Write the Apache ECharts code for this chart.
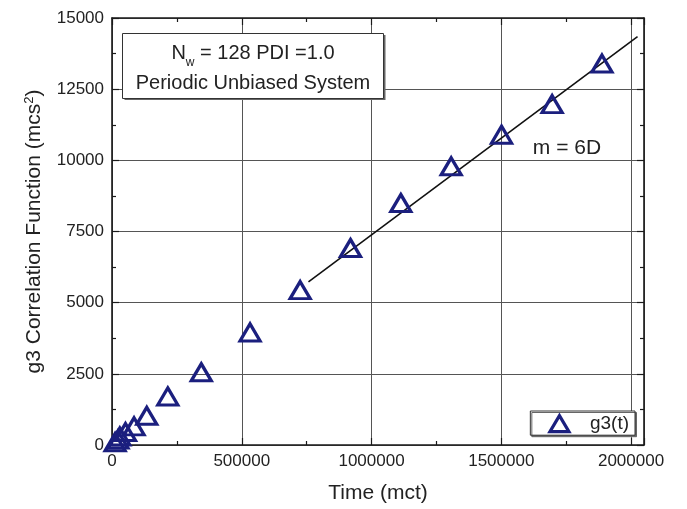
<!DOCTYPE html>
<html>
<head>
<meta charset="utf-8">
<script src="https://cdn.jsdelivr.net/npm/echarts@6/dist/echarts.min.js"></script>
<style>html,body{margin:0;padding:0;background:#fff;}#c{width:687px;height:509px;}</style>
</head>
<body>
<div id="c"></div>
<script>
var timeVals = [12000, 23000, 30000, 52000, 85000, 134000, 215000, 344000, 532000, 725000, 919000, 1113000, 1307000, 1501000, 1696000, 1888000];
var g3Vals = [100, 190, 300, 455, 655, 1025, 1705, 2555, 3955, 5440, 6920, 8500, 9790, 10900, 11975, 13400];
var fitX = [757000, 2025000];
var fitY = [5730, 14345];
var xTickStep = 500000;
var yTickStep = 2500;

var FONT = 'Liberation Sans, Arial, sans-serif';
var NAVY = '#1b1f7e';
var chart = echarts.init(document.getElementById('c'), null, {renderer: 'canvas'});

function axisCommon(showLabels, showSplit) {
  return {
    axisLine: {show: true, onZero: false, lineStyle: {color: '#1a1a1a', width: 1.6}},
    axisTick: {show: true, inside: true, length: 7, lineStyle: {color: '#1a1a1a', width: 1.2}},
    minorTick: {show: true, splitNumber: 2, length: 4, lineStyle: {color: '#1a1a1a', width: 1.2}},
    splitLine: {show: showSplit, lineStyle: {color: '#555', width: 1}},
    axisLabel: {show: showLabels, color: '#222', fontFamily: FONT, fontSize: 17, margin: 8, showMaxLabel: false,
      formatter: function (v) { return String(v); }}
  };
}

var xBottom = Object.assign(axisCommon(true, true), {
  type: 'value', position: 'bottom', min: 0, max: 2050000, interval: xTickStep,
  name: 'Time (mct)', nameLocation: 'middle', nameGap: 38,
  nameTextStyle: {fontFamily: FONT, fontSize: 21, color: '#222'}
});
var xTop = Object.assign(axisCommon(false, false), {
  type: 'value', position: 'top', min: 0, max: 2050000, interval: xTickStep
});
var yLeft = Object.assign(axisCommon(true, true), {
  type: 'value', position: 'left', min: 0, max: 15000, interval: yTickStep,
  name: 'g3 Correlation Function (mcs{sup|2})', nameLocation: 'middle', nameGap: 66,
  nameTextStyle: {fontFamily: FONT, fontSize: 21, color: '#222',
    rich: {sup: {fontFamily: FONT, fontSize: 13, color: '#222', verticalAlign: 'top', padding: [0, 0, 10, 0]}}}
});
yLeft.axisLabel.showMaxLabel = true;
var yRight = Object.assign(axisCommon(false, false), {
  type: 'value', position: 'right', min: 0, max: 15000, interval: yTickStep
});

var option = {
  animation: false,
  backgroundColor: '#fff',
  grid: {left: 112, right: 43, top: 18, bottom: 62, containLabel: false},
  xAxis: [xBottom, xTop],
  yAxis: [yLeft, yRight],
  legend: {
    data: [{name: 'g3(t)', icon: 'triangle'}],
    right: 52, top: 411,
    backgroundColor: '#fff', borderColor: '#333', borderWidth: 1,
    shadowColor: '#666', shadowOffsetX: 1.5, shadowOffsetY: 1.5, shadowBlur: 0,
    padding: [3, 6, 2, 18],
    itemWidth: 19, itemHeight: 16,
    itemStyle: {color: '#fff', borderColor: NAVY, borderWidth: 3.2},
    textStyle: {fontFamily: FONT, fontSize: 19, color: '#222', padding: [0, 0, 0, 16]}
  },
  graphic: [
    {type: 'rect', shape: {x: 124.5, y: 35, width: 261, height: 65}, style: {fill: '#666'}, z: 10},
    {type: 'rect', shape: {x: 122.5, y: 33.5, width: 261, height: 65}, style: {fill: '#fff', stroke: '#333', lineWidth: 1}, z: 11},
    {type: 'text', x: 253, y: 55, z: 12, style: {
      text: '{m|N}{s|w}{m| = 128 PDI =1.0}', align: 'center', verticalAlign: 'middle',
      rich: {
        m: {fontFamily: FONT, fontSize: 20, fill: '#222', lineHeight: 24, verticalAlign: 'top'},
        s: {fontFamily: FONT, fontSize: 12, fill: '#222', lineHeight: 14, padding: [14, 0, 0, 0], verticalAlign: 'top'}
      }
    }},
    {type: 'text', x: 253, y: 83, z: 12, style: {
      text: 'Periodic Unbiased System', align: 'center', verticalAlign: 'middle',
      fontFamily: FONT, fontSize: 20, fill: '#222'
    }},
    {type: 'text', x: 567, y: 148, z: 12, style: {
      text: 'm = 6D', align: 'center', verticalAlign: 'middle',
      fontFamily: FONT, fontSize: 21, fill: '#222'
    }}
  ],
  series: [
    {
      name: 'fit', type: 'line', xAxisIndex: 0, yAxisIndex: 0,
      data: fitX.map(function (x, i) { return [x, fitY[i]]; }),
      showSymbol: false, symbol: 'none',
      lineStyle: {color: '#111', width: 1.6}, z: 3
    },
    {
      name: 'g3(t)', type: 'scatter', xAxisIndex: 0, yAxisIndex: 0,
      data: timeVals.map(function (x, i) { return [x, g3Vals[i]]; }),
      symbol: 'triangle', symbolSize: [20, 17],
      itemStyle: {color: 'rgba(255,255,255,0)', borderColor: NAVY, borderWidth: 3.2, opacity: 1},
      z: 4
    }
  ]
};
chart.setOption(option);
</script>
</body>
</html>
